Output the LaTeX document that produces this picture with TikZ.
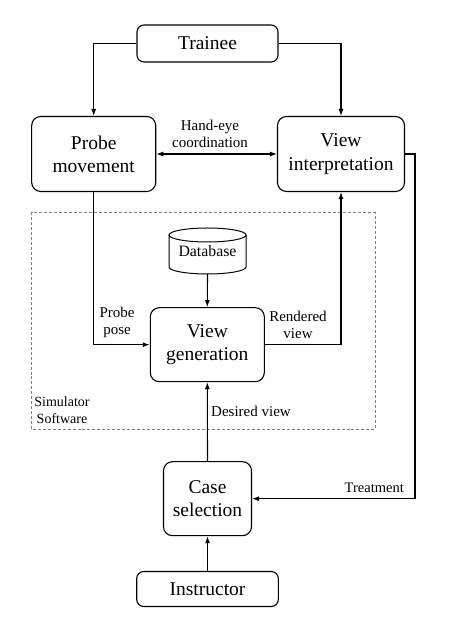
\documentclass[tikz,border=0pt]{standalone}
\usepackage{fontspec}
\setmainfont{Liberation Serif}
\usetikzlibrary{arrows.meta}
\begin{document}
\begin{tikzpicture}[x=1bp,y=1bp,
  box/.style={draw, line width=1.1bp, rounded corners=9bp, align=center, inner sep=0pt,
    font=\fontsize{19.5bp}{23.3bp}\selectfont},
  lbl/.style={align=center, inner sep=0pt, font=\fontsize{15bp}{17.5bp}\selectfont},
  conn/.style={line width=1.1bp, -{Latex[length=7bp,width=5bp]}},
  dconn/.style={line width=1.1bp, {Latex[length=7bp,width=5bp]}-{Latex[length=7bp,width=5bp]}}]
\useasboundingbox (0,0) rectangle (474,630);
% simulator region
\draw[gray, line width=0.6bp, densely dashed] (31.7,200.7) rectangle (375,417.3);
\node[align=center, inner sep=0pt, font=\fontsize{14bp}{17bp}\selectfont] (sim) at (62,219.5) {Simulator\\Software};
% nodes
\node[box, minimum width=141bp, minimum height=37bp, rounded corners=7bp] (tr) at (207.5,586.5) {Trainee};
\node[box, minimum width=124bp, minimum height=75bp] (pm) at (93.7,476) {Probe\\movement};
\node[box, minimum width=127bp, minimum height=75bp] (vi) at (341,476) {View\\interpretation};
\node[box, minimum width=114bp, minimum height=74bp] (vg) at (207.3,285.3) {View\\generation};
\node[box, minimum width=88bp, minimum height=74bp] (cs) at (207.5,131.3) {Case\\selection};
\node[box, minimum width=141.6bp, minimum height=35bp, rounded corners=7bp] (in) at (207.5,41) {Instructor};
% database cylinder
\node[inner sep=0pt, minimum width=77bp, minimum height=46bp, font=\fontsize{15.8bp}{18bp}\selectfont] (db) at (207.5,379) {\raisebox{-5bp}{Database}};
\draw[line width=1bp] (207.5,395) ellipse [x radius=38.5, y radius=7];
\draw[line width=1bp] (169,395) -- (169,363) arc [start angle=180, end angle=360, x radius=38.5, y radius=7] -- (246,395);
% connectors
\draw[conn] (tr.west) -| (pm.north);
\draw[conn] (tr.east) -| (vi.north);
\draw[dconn] (pm.east) -- (vi.west);
\draw[conn] (pm.south) |- (vg.west);
\draw[conn] (vg.east) -| (vi.south);
\draw[conn] (db.south) -- (vg.north);
\draw[conn] (cs.north) -- (vg.south);
\draw[conn] (in.north) -- (cs.south);
\coordinate (c1) at (415,476);
\coordinate (c2) at (415,131.3);
\draw[conn] (vi.east) -- (c1) -- (c2) -- (cs.east);
% labels
\node[lbl] (he) at (210,496) {Hand-eye\\coordination};
\node[lbl] (pp) at (117,307.5) {Probe\\pose};
\node[lbl] (rv) at (298,305) {Rendered\\view};
\node[lbl, anchor=west] (dv) at (211,218.3) {Desired view};
\node[lbl, anchor=east, font=\fontsize{14.5bp}{17bp}\selectfont] (tx) at (404,142.3) {Treatment};
\end{tikzpicture}
\end{document}
